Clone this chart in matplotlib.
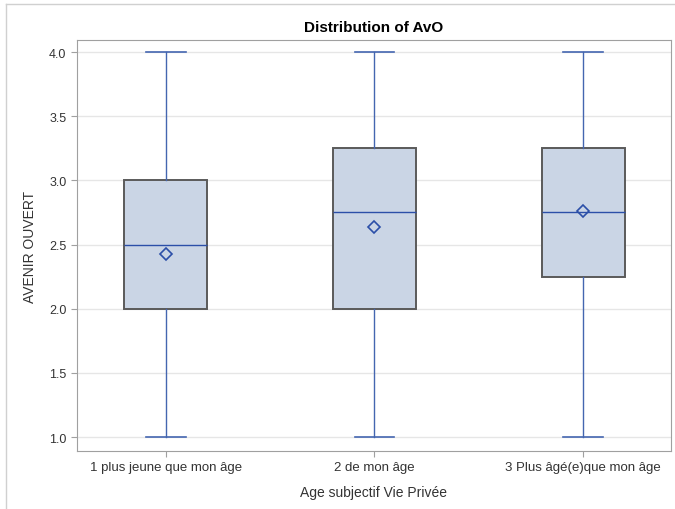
import matplotlib
matplotlib.use("Agg")
import matplotlib.pyplot as plt
from matplotlib.lines import Line2D

plt.rcParams['font.family'] = ['Liberation Sans', 'DejaVu Sans']

categories = ["1 plus jeune que mon âge", "2 de mon âge", "3 Plus âgé(e)que mon âge"]
whislo = [1.0, 1.0, 1.0]
q1 = [2.0, 2.0, 2.25]
med = [2.5, 2.75, 2.75]
q3 = [3.0, 3.25, 3.25]
whishi = [4.0, 4.0, 4.0]
means = [2.43, 2.64, 2.76]
yticks = [1.0, 1.5, 2.0, 2.5, 3.0, 3.5, 4.0]

fig = plt.figure(figsize=(6.75, 5.1), dpi=100)
ax = fig.add_axes([0.114, 0.1137, 0.880, 0.806])

stats = []
for i, c in enumerate(categories):
    stats.append(dict(label=c, whislo=whislo[i], q1=q1[i], med=med[i], q3=q3[i],
                      whishi=whishi[i], mean=means[i], fliers=[]))

blue = "#4466B0"
ax.bxp(stats, positions=range(len(categories)), widths=0.40, showmeans=True,
       patch_artist=True,
       boxprops=dict(facecolor="#CAD5E5", edgecolor="#5A5A5A", linewidth=1.4),
       whiskerprops=dict(color=blue, linewidth=1.0),
       capprops=dict(color=blue, linewidth=1.2),
       medianprops=dict(color="#2B4FA8", linewidth=1.0),
       meanprops=dict(marker="D", markerfacecolor="none", markeredgecolor="#2B4FA8",
                      markersize=6, markeredgewidth=1.2),
       capwidths=0.19, zorder=3)

ax.set_xlim(-0.425, 2.42)
ax.set_ylim(0.891, 4.094)
ax.set_yticks(yticks)
ax.set_yticklabels([f"{v:.1f}" for v in yticks])
ax.set_xticks(range(len(categories)))
ax.set_xticklabels(categories)
ax.grid(axis='y', color="#E6E6E6", linewidth=1.0, zorder=0)
ax.set_axisbelow(True)
for s in ax.spines.values():
    s.set_color("#A0A0A0")
ax.tick_params(axis='both', colors="#A0A0A0", labelcolor="#333333", labelsize=9, length=4)
ax.tick_params(axis='x', labelsize=9.5)

ax.set_title("Distribution of AvO", fontsize=11, fontweight='bold', pad=6.5)
ax.set_ylabel("AVENIR OUVERT", fontsize=10, color="#333333", labelpad=9)
ax.set_xlabel("Age subjectif Vie Privée", fontsize=10, color="#333333", labelpad=8)

fig.add_artist(Line2D([6/675, 6/675], [0, 1 - 5/510], transform=fig.transFigure, color="#D0D0D0", lw=1))
fig.add_artist(Line2D([6/675, 1], [1 - 5/510, 1 - 5/510], transform=fig.transFigure, color="#D0D0D0", lw=1))

fig.savefig("out.png", dpi=100)
